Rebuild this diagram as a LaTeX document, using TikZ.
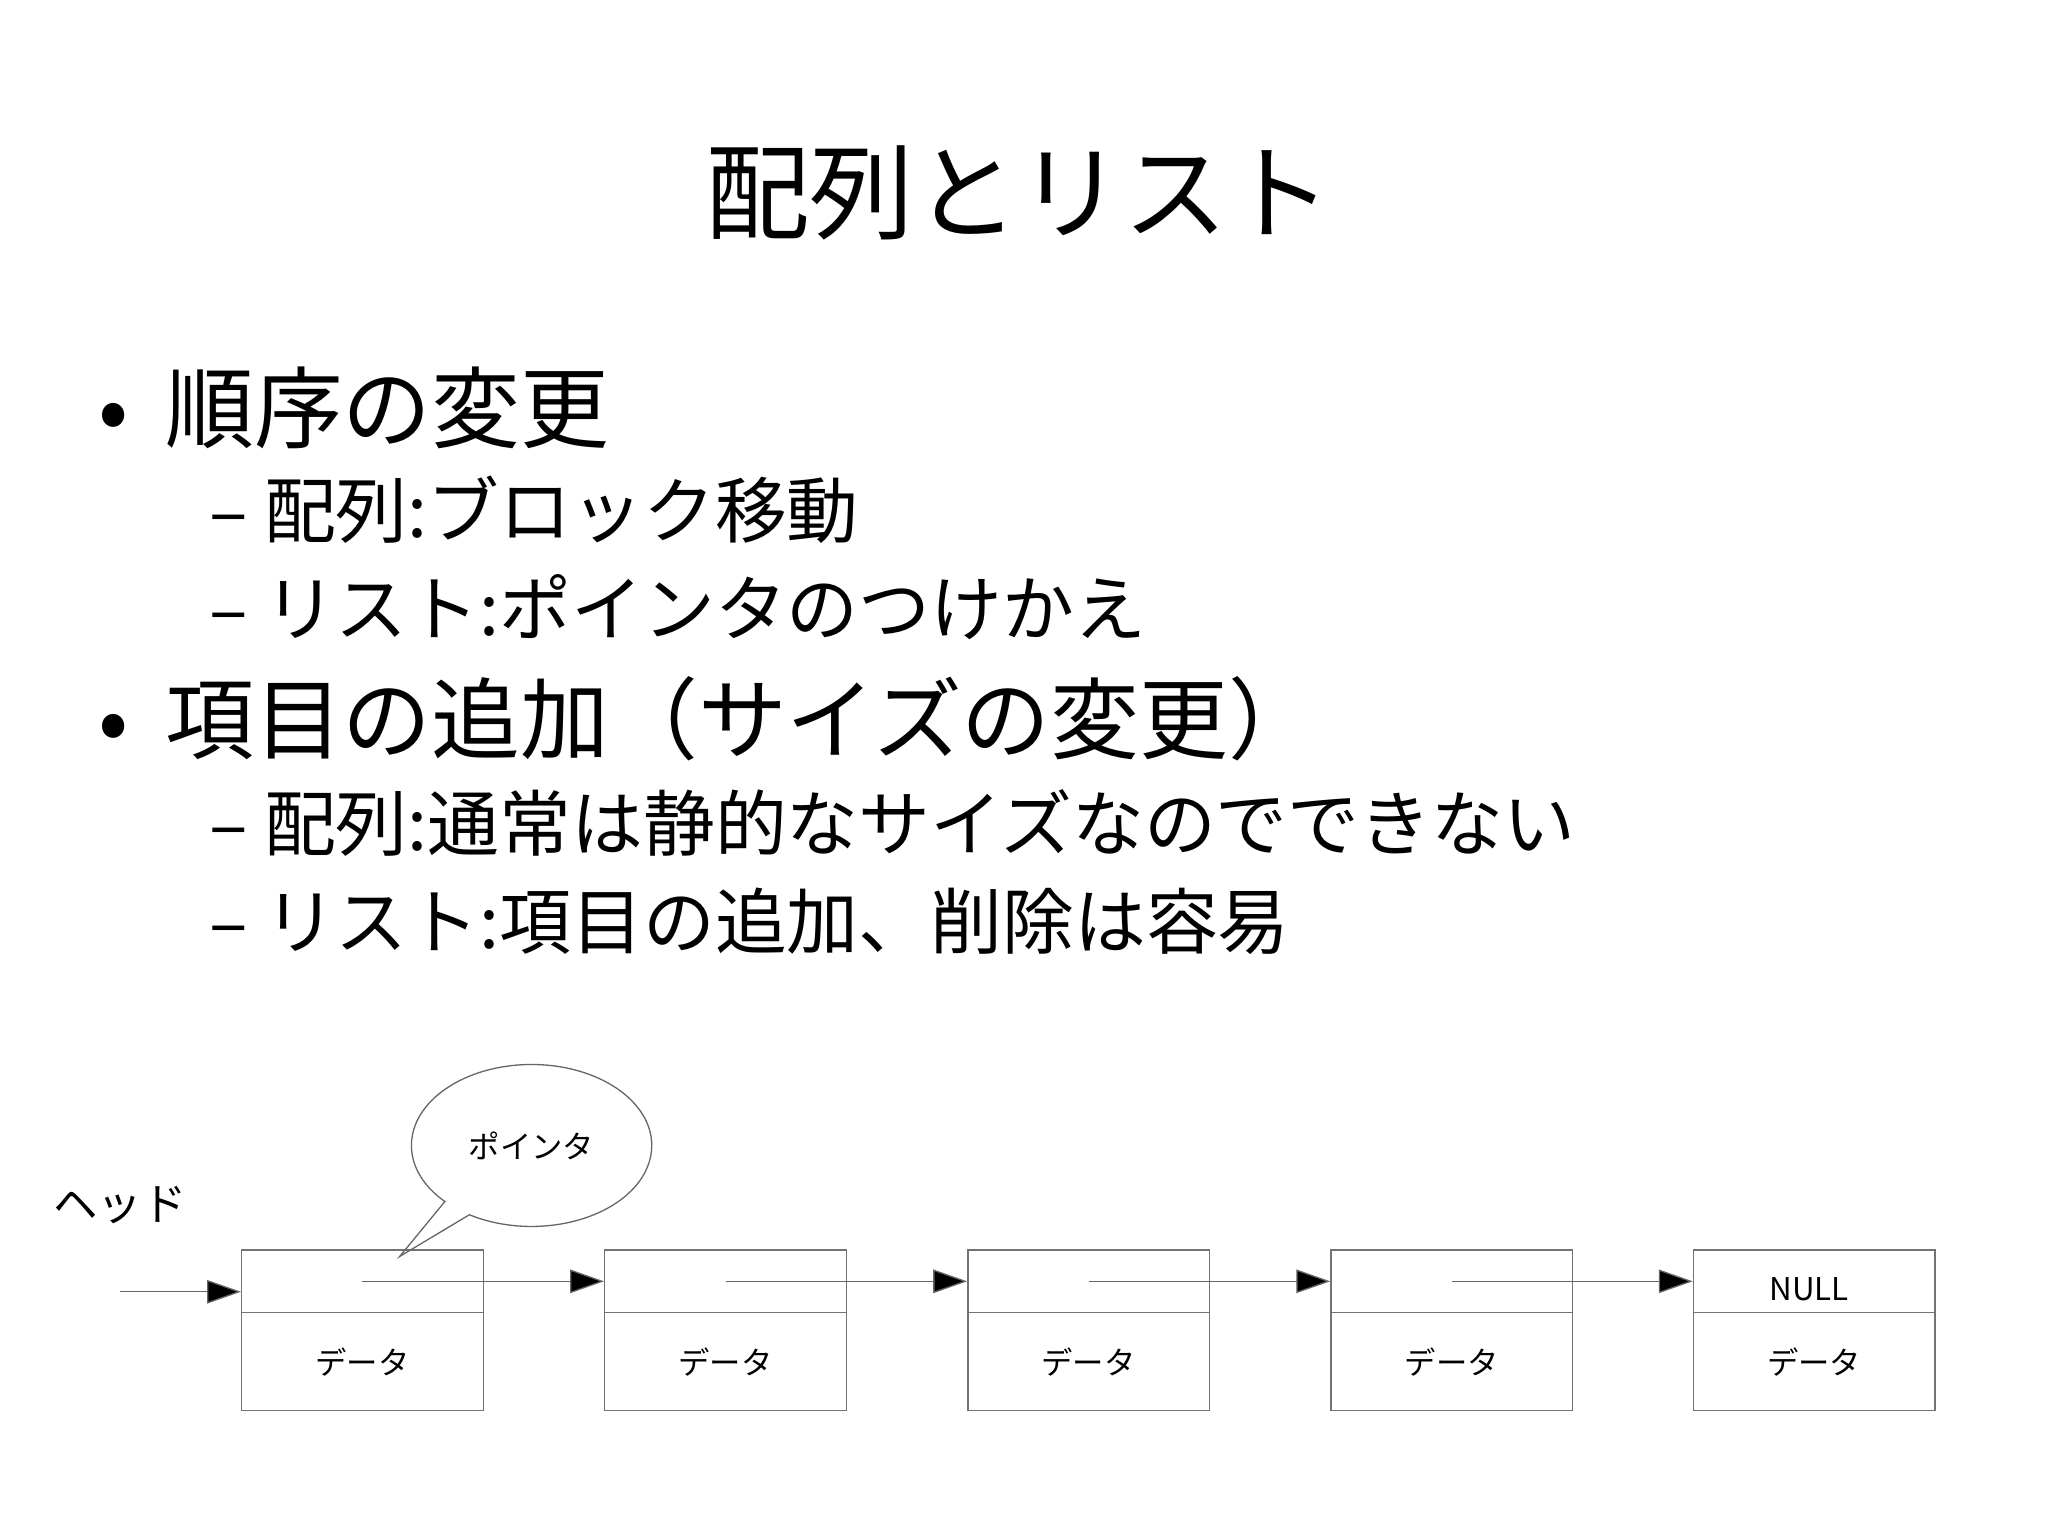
\documentclass[tikz,border=0pt]{standalone}
\usepackage{fontspec}
\setmainfont{Noto Sans CJK JP}
\usetikzlibrary{arrows.meta,shapes.callouts}
\begin{document}
\begin{tikzpicture}[x=0.5pt,y=-0.5pt,
  cell/.style={draw=black!55,line width=0.5pt,minimum width=92.5pt,inner sep=0pt,font=\fontsize{12}{14}\selectfont},
  ptr/.style={draw=black!60,line width=0.5pt,-{Triangle[length=13pt,width=9pt,fill=black]}},
  bul/.style={anchor=west,inner sep=0pt,font=\fontsize{34}{40}\selectfont},
  sub/.style={anchor=west,inner sep=0pt,font=\fontsize{27.5}{32}\selectfont}]
\useasboundingbox (0,0) rectangle (1568,1176);
\node[inner sep=0pt,font=\fontsize{40}{46}\selectfont] (title) at (780,148) {配列とリスト};
\node[bul] (b1) at (75,312) {•\hspace{14pt}順序の変更};
\node[sub] (s1) at (160,390) {– 配列:ブロック移動};
\node[sub] (s2) at (160,465) {– リスト:ポインタのつけかえ};
\node[bul] (b2) at (75,550) {•\hspace{14pt}項目の追加（サイズの変更）};
\node[sub] (s3) at (160,630) {– 配列:通常は静的なサイズなのでできない};
\node[sub] (s4) at (160,705) {– リスト:項目の追加、削除は容易};
\node[font=\fontsize{17}{20}\selectfont] (head) at (92,923) {ヘッド};
\foreach \i/\x in {1/277.5,2/555.5,3/833.5,4/1111.5,5/1389} {
  \node[cell,minimum height=24pt] (p\i) at (\x,981) {};
  \node[cell,minimum height=37.5pt] (d\i) at (\x,1042.5) {データ};
}
\node[font=\fontsize{12}{14}\selectfont] (null) at (1385,987) {NULL};
\coordinate (hs) at (92,989);
\draw[ptr] (hs) -- (hs -| p1.west);
\foreach \i/\j in {1/2,2/3,3/4,4/5}
  \draw[ptr] (p\i.center) -- (p\j.west);
\node[ellipse callout,draw=black!60,line width=0.5pt,minimum width=92pt,minimum height=62pt,
  callout absolute pointer={(306,962)},font=\fontsize{12}{14}\selectfont] (call) at (407,877) {ポインタ};
\end{tikzpicture}
\end{document}
